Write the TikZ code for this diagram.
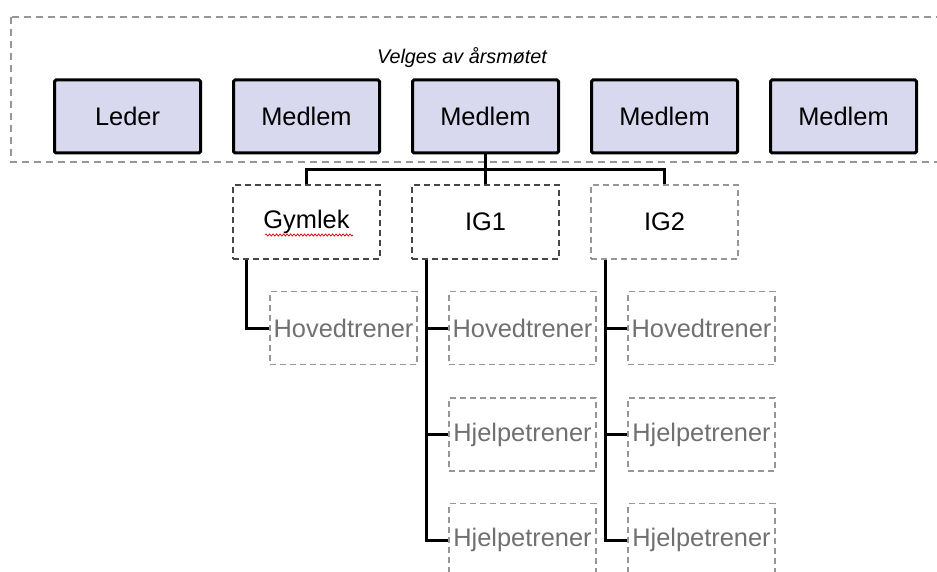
\documentclass[tikz,border=0pt]{standalone}
\usepackage{fontspec}
\setmainfont{Liberation Sans}
\usetikzlibrary{decorations.pathmorphing}
\definecolor{lav}{RGB}{216,216,238}
\definecolor{dgray}{RGB}{70,70,70}
\definecolor{lgray}{RGB}{150,150,150}
\definecolor{tgray}{RGB}{112,112,112}
\tikzset{
  topbox/.style={draw=black, line width=3pt, fill=lav, rounded corners=1.5pt,
    minimum width=146pt, minimum height=73pt, inner sep=0pt,
    font=\fontsize{25.4}{29}\selectfont},
  grpbox/.style={draw=dgray, line width=1.4pt, dash pattern=on 6pt off 4pt,
    minimum width=147pt, minimum height=74pt, inner sep=0pt,
    font=\fontsize{25.4}{29}\selectfont},
  grpboxl/.style={grpbox, draw=lgray},
  trbox/.style={draw=lgray, line width=1.2pt, dash pattern=on 6pt off 4pt,
    minimum width=147pt, minimum height=73pt, inner sep=0pt, text=tgray,
    font=\fontsize{25.4}{29}\selectfont},
  conn/.style={line width=3pt, black},
}
\begin{document}
\begin{tikzpicture}[x=1pt,y=-1pt]
\useasboundingbox (0,0) rectangle (937,572);
\draw[lgray, line width=1.1pt, dash pattern=on 7pt off 5pt] (11,17) rectangle (950,162);
\node[font=\fontsize{19.8}{23}\selectfont\itshape] (title) at (462,58) {Velges av årsmøtet};
\node[topbox] (leder) at (127.5,116.5) {Leder};
\node[topbox] (m1) at (306.5,116.5) {Medlem};
\node[topbox] (m2) at (485.5,116.5) {Medlem};
\node[topbox] (m3) at (664.5,116.5) {Medlem};
\node[topbox] (m4) at (843.5,116.5) {Medlem};
\node[grpbox] (gym) at (306.5,222) {Gymlek};
\node[grpbox] (ig1) at (485.5,222) {IG1};
\node[grpboxl] (ig2) at (664.5,222) {IG2};
\draw[red!85!black, line width=0.7pt, decorate, decoration={snake, amplitude=1.1pt, segment length=3.5pt}] (265,235) -- (353,235);
\node[trbox] (gh) at (343.5,328) {Hovedtrener};
\node[trbox] (ah) at (522.5,328) {Hovedtrener};
\node[trbox] (aj1) at (522.5,434.5) {Hjelpetrener};
\node[trbox] (aj2) at (522.5,540) {Hjelpetrener};
\node[trbox] (bh) at (701.5,328) {Hovedtrener};
\node[trbox] (bj1) at (701.5,434.5) {Hjelpetrener};
\node[trbox] (bj2) at (701.5,540) {Hjelpetrener};
\draw[conn] (m2.south) -- (ig1.north);
\draw[conn] (gym.north) -- ++(0,-15) -| (ig2.north);
\draw[conn] ([xshift=14pt]gym.south west) |- (gh.west);
\draw[conn] ([xshift=15.5pt]ig1.south west) |- (aj2.west);
\draw[conn] ([xshift=15.5pt]ig1.south west |- ah.west) -- (ah.west);
\draw[conn] ([xshift=15.5pt]ig1.south west |- aj1.west) -- (aj1.west);
\draw[conn] ([xshift=15.5pt]ig2.south west) |- (bj2.west);
\draw[conn] ([xshift=15.5pt]ig2.south west |- bh.west) -- (bh.west);
\draw[conn] ([xshift=15.5pt]ig2.south west |- bj1.west) -- (bj1.west);
\end{tikzpicture}
\end{document}
